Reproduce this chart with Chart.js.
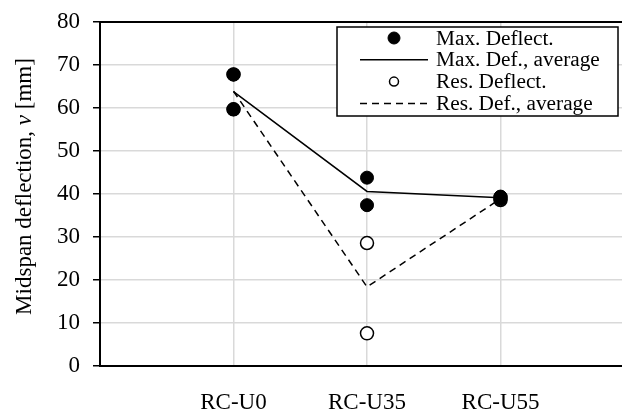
<!DOCTYPE html>
<html>
<head>
<meta charset="utf-8">
<script src="https://cdn.jsdelivr.net/npm/chart.js@4.4.0/dist/chart.umd.min.js"></script>
<style>
  html, body { margin: 0; padding: 0; background: #fff; }
  #wrap { width: 622px; height: 412px; }
</style>
</head>
<body>
<div id="wrap"><canvas id="chart"></canvas></div>
<script>
// values, two specimens per group
const categories = ['RC-U0', 'RC-U35', 'RC-U55'];
const maxDeflectA = [67.8, 43.8, 39.4];
const maxDeflectB = [59.7, 37.4, 38.8];
const maxDefAverage = [63.8, 40.6, 39.1];
const resDeflectA = [67.8, 28.6, 39.2];
const resDeflectB = [59.7, 7.6, 38.6];
const resDefAverage = [63.9, 18.4, 38.9];
const yTicks = [0, 10, 20, 30, 40, 50, 60, 70, 80];

const serif = "'Liberation Serif', 'Times New Roman', serif";
Chart.defaults.font.family = serif;
Chart.defaults.color = '#000';

const toPoints = arr => arr.map((v, i) => ({ x: i + 1, y: v }));

// legend box drawn inside the plot, top right
const boxLegend = {
    id: 'boxLegend',
    afterDraw(chart) {
        const ctx = chart.ctx;
        const area = chart.chartArea;
        const left = area.right - 285, top = area.top + 5;
        const w = 281, h = 89, row = 21.8;
        ctx.save();
        ctx.strokeStyle = '#000';
        ctx.lineWidth = 1.5;
        ctx.fillStyle = '#fff';
        ctx.fillRect(left, top, w, h);
        ctx.strokeRect(left, top, w, h);
        ctx.font = '21.3px ' + serif;
        ctx.textBaseline = 'middle';
        chart.data.datasets.forEach((ds, i) => {
            const y = top + 11 + i * row;
            const cx = left + 57;
            ctx.save();
            if (ds.showLine) {
                ctx.strokeStyle = ds.borderColor;
                ctx.lineWidth = ds.borderWidth;
                ctx.setLineDash(ds.borderDash || []);
                ctx.beginPath();
                ctx.moveTo(left + 23, y);
                ctx.lineTo(left + 91, y);
                ctx.stroke();
            } else {
                const r = i === 0 ? 6 : 4.5;
                ctx.beginPath();
                ctx.arc(cx, y, r, 0, Math.PI * 2);
                ctx.fillStyle = ds.pointBackgroundColor;
                ctx.fill();
                ctx.lineWidth = ds.pointBorderWidth;
                ctx.strokeStyle = '#000';
                ctx.stroke();
            }
            ctx.restore();
            ctx.fillStyle = '#000';
            ctx.fillText(ds.label, left + 99, y + 1);
        });
        ctx.restore();
    }
};

// top frame line and y axis title with italic v
const frameAndTitle = {
    id: 'frameAndTitle',
    afterDraw(chart) {
        const ctx = chart.ctx;
        const area = chart.chartArea;
        ctx.save();
        ctx.strokeStyle = '#000';
        ctx.lineWidth = 2;
        ctx.beginPath();
        ctx.moveTo(area.left - 1, area.top);
        ctx.lineTo(area.right, area.top);
        ctx.stroke();

        const parts = [
            { t: 'Midspan deflection, ', f: '23px ' + serif },
            { t: 'v', f: 'italic 23px ' + serif },
            { t: ' [mm]', f: '23px ' + serif }
        ];
        let total = 0;
        parts.forEach(p => { ctx.font = p.f; p.w = ctx.measureText(p.t).width; total += p.w; });
        ctx.translate(31, 186.5);
        ctx.rotate(-Math.PI / 2);
        ctx.textBaseline = 'alphabetic';
        ctx.fillStyle = '#000';
        let x = -total / 2;
        parts.forEach(p => { ctx.font = p.f; ctx.fillText(p.t, x, 0); x += p.w; });
        ctx.restore();
    }
};

new Chart(document.getElementById('chart'), {
    type: 'scatter',
    data: {
        datasets: [
            {
                label: 'Max. Deflect.',
                data: toPoints(maxDeflectA).concat(toPoints(maxDeflectB)),
                pointRadius: 6.5,
                pointBackgroundColor: '#000',
                pointBorderColor: '#000',
                pointBorderWidth: 1,
                showLine: false
            },
            {
                label: 'Max. Def., average',
                data: toPoints(maxDefAverage),
                showLine: true,
                borderColor: '#000',
                borderWidth: 1.5,
                pointRadius: 0
            },
            {
                label: 'Res. Deflect.',
                data: toPoints(resDeflectA).concat(toPoints(resDeflectB)),
                pointRadius: 6.5,
                pointBackgroundColor: '#fff',
                pointBorderColor: '#000',
                pointBorderWidth: 1.5,
                showLine: false
            },
            {
                label: 'Res. Def., average',
                data: toPoints(resDefAverage),
                showLine: true,
                borderColor: '#000',
                borderWidth: 1.5,
                borderDash: [7, 5],
                pointRadius: 0
            }
        ]
    },
    options: {
        responsive: true,
        maintainAspectRatio: false,
        animation: false,
        events: [],
        layout: { autoPadding: false, padding: { top: 22, right: 0, left: 0, bottom: 0 } },
        plugins: {
            legend: { display: false },
            tooltip: { enabled: false }
        },
        scales: {
            x: {
                type: 'linear',
                min: 0,
                max: 3.91,
                afterFit: s => { s.height = 46; s.paddingLeft = 0; s.paddingRight = 0; },
                afterBuildTicks: s => { s.ticks = categories.map((c, i) => ({ value: i + 1 })); },
                grid: { color: '#d9d9d9', lineWidth: 1.5, drawTicks: false },
                border: { color: '#000', width: 2 },
                ticks: {
                    padding: 23,
                    maxRotation: 0,
                    font: { size: 23 },
                    callback: (v, i) => categories[i]
                }
            },
            y: {
                min: 0,
                max: 80,
                afterFit: s => { s.width = 100; s.paddingTop = 0; s.paddingBottom = 0; },
                afterBuildTicks: s => { s.ticks = yTicks.map(v => ({ value: v })); },
                grid: { color: '#d9d9d9', lineWidth: 1.5, tickLength: 7, tickColor: '#000', tickWidth: 1.5 },
                border: { color: '#000', width: 2 },
                ticks: { padding: 13, font: { size: 23 } }
            }
        }
    },
    plugins: [boxLegend, frameAndTitle]
});
</script>
</body>
</html>
